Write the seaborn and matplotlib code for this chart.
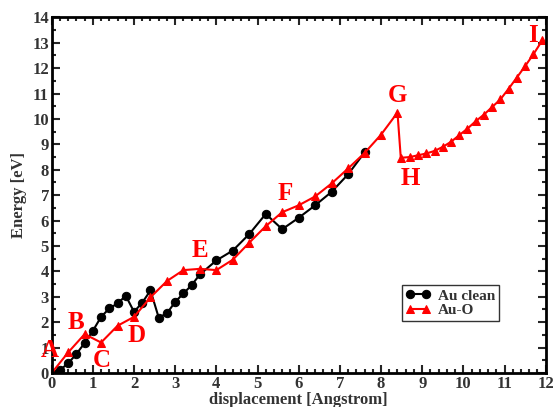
import matplotlib
matplotlib.use("Agg")
import matplotlib.pyplot as plt
from matplotlib.ticker import MultipleLocator
import seaborn as sns
import pandas as pd
import numpy as np

# Au clean path
x_clean = [0.0, 0.2, 0.4, 0.6, 0.8, 1.0, 1.2, 1.4, 1.6, 1.8, 2.0, 2.2, 2.4, 2.6,
           2.8, 3.0, 3.2, 3.4, 3.6, 4.0, 4.4, 4.8, 5.2, 5.6, 6.0, 6.4, 6.8, 7.2, 7.6]
e_clean = [0.0, 0.12, 0.38, 0.75, 1.18, 1.66, 2.21, 2.54, 2.74, 3.04, 2.41, 2.77,
           3.25, 2.18, 2.35, 2.8, 3.13, 3.46, 3.88, 4.43, 4.82, 5.47, 6.26, 5.66,
           6.11, 6.6, 7.13, 7.82, 8.68]

# Au-O path
x_o = [0.0, 0.4, 0.8, 1.2, 1.6, 2.0, 2.4, 2.8, 3.2, 3.6, 4.0, 4.4, 4.8, 5.2, 5.6,
       6.0, 6.4, 6.8, 7.2, 7.6, 8.0, 8.4, 8.48, 8.7, 8.9, 9.1, 9.3, 9.5, 9.7, 9.9,
       10.1, 10.3, 10.5, 10.7, 10.9, 11.1, 11.3, 11.5, 11.7, 11.92]
e_o = [0.0, 0.81, 1.53, 1.2, 1.86, 2.21, 2.98, 3.62, 4.05, 4.1, 4.05, 4.46, 5.13,
       5.78, 6.33, 6.6, 6.95, 7.46, 8.05, 8.66, 9.38, 10.25, 8.47, 8.5, 8.57, 8.64,
       8.74, 8.9, 9.1, 9.36, 9.62, 9.91, 10.17, 10.47, 10.77, 11.19, 11.63, 12.08,
       12.54, 13.1]

# state labels
lab_text = ["A", "B", "C", "D", "E", "F", "G", "H", "I"]
lab_x = [-0.04, 0.6, 1.21, 2.06, 3.6, 5.67, 8.39, 8.7, 11.69]
lab_y = [0.9, 1.97, 0.51, 1.49, 4.81, 7.07, 10.93, 7.67, 13.29]

sns.set_style("ticks")
plt.rcParams['font.family'] = ['Liberation Serif', 'DejaVu Serif']
plt.rcParams['font.weight'] = 'bold'

fig = plt.figure(figsize=(5.54, 4.07), dpi=100)
ax = fig.add_axes([0.0933, 0.0835, 0.8917, 0.874])

df1 = pd.DataFrame({"x": x_clean, "E": e_clean})
df2 = pd.DataFrame({"x": x_o, "E": e_o})
sns.lineplot(data=df1, x="x", y="E", ax=ax, color="black", marker="o",
             markersize=6, markeredgecolor="black", linewidth=1.5,
             sort=False, estimator=None, label="Au clean")
sns.lineplot(data=df2, x="x", y="E", ax=ax, color="#ff0000", marker="^",
             markersize=5.5, markeredgecolor="#ff0000", linewidth=1.5,
             sort=False, estimator=None, label="Au-O")

for t, tx, ty in zip(lab_text, lab_x, lab_y):
    ax.text(tx, ty, t, color="#ff0000", fontsize=18, fontweight="bold",
            ha="center", va="center")

ax.set_xlim(0, 12)
ax.set_ylim(0, 14)
ax.xaxis.set_major_locator(MultipleLocator(1))
ax.xaxis.set_minor_locator(MultipleLocator(0.2))
ax.yaxis.set_major_locator(MultipleLocator(1))
ax.yaxis.set_minor_locator(MultipleLocator(0.5))
ax.tick_params(which="both", direction="in", top=True, right=True,
               width=1.5, labelsize=12, labelcolor="#333333", pad=2)
ax.tick_params(which="major", length=6)
ax.tick_params(which="minor", length=3)
for s in ax.spines.values():
    s.set_linewidth(2)
    s.set_color("black")

ax.set_xlabel("displacement [Angstrom]", fontsize=12, fontweight="bold",
              color="#333333", labelpad=0)
ax.set_ylabel("Energy [eV]", fontsize=12, fontweight="bold",
              color="#333333", labelpad=4)

leg = ax.legend(loc="upper left", bbox_to_anchor=(0.709, 0.247),
                borderaxespad=0, fancybox=False, frameon=True, numpoints=2,
                prop={"size": 11, "weight": "bold"}, handlelength=1.6,
                handletextpad=0.5, borderpad=0.25, labelspacing=0.05)
leg.get_frame().set_edgecolor("black")
leg.get_frame().set_linewidth(1.0)
for t in leg.get_texts():
    t.set_color("#333333")

fig.savefig("out.png", dpi=100)
